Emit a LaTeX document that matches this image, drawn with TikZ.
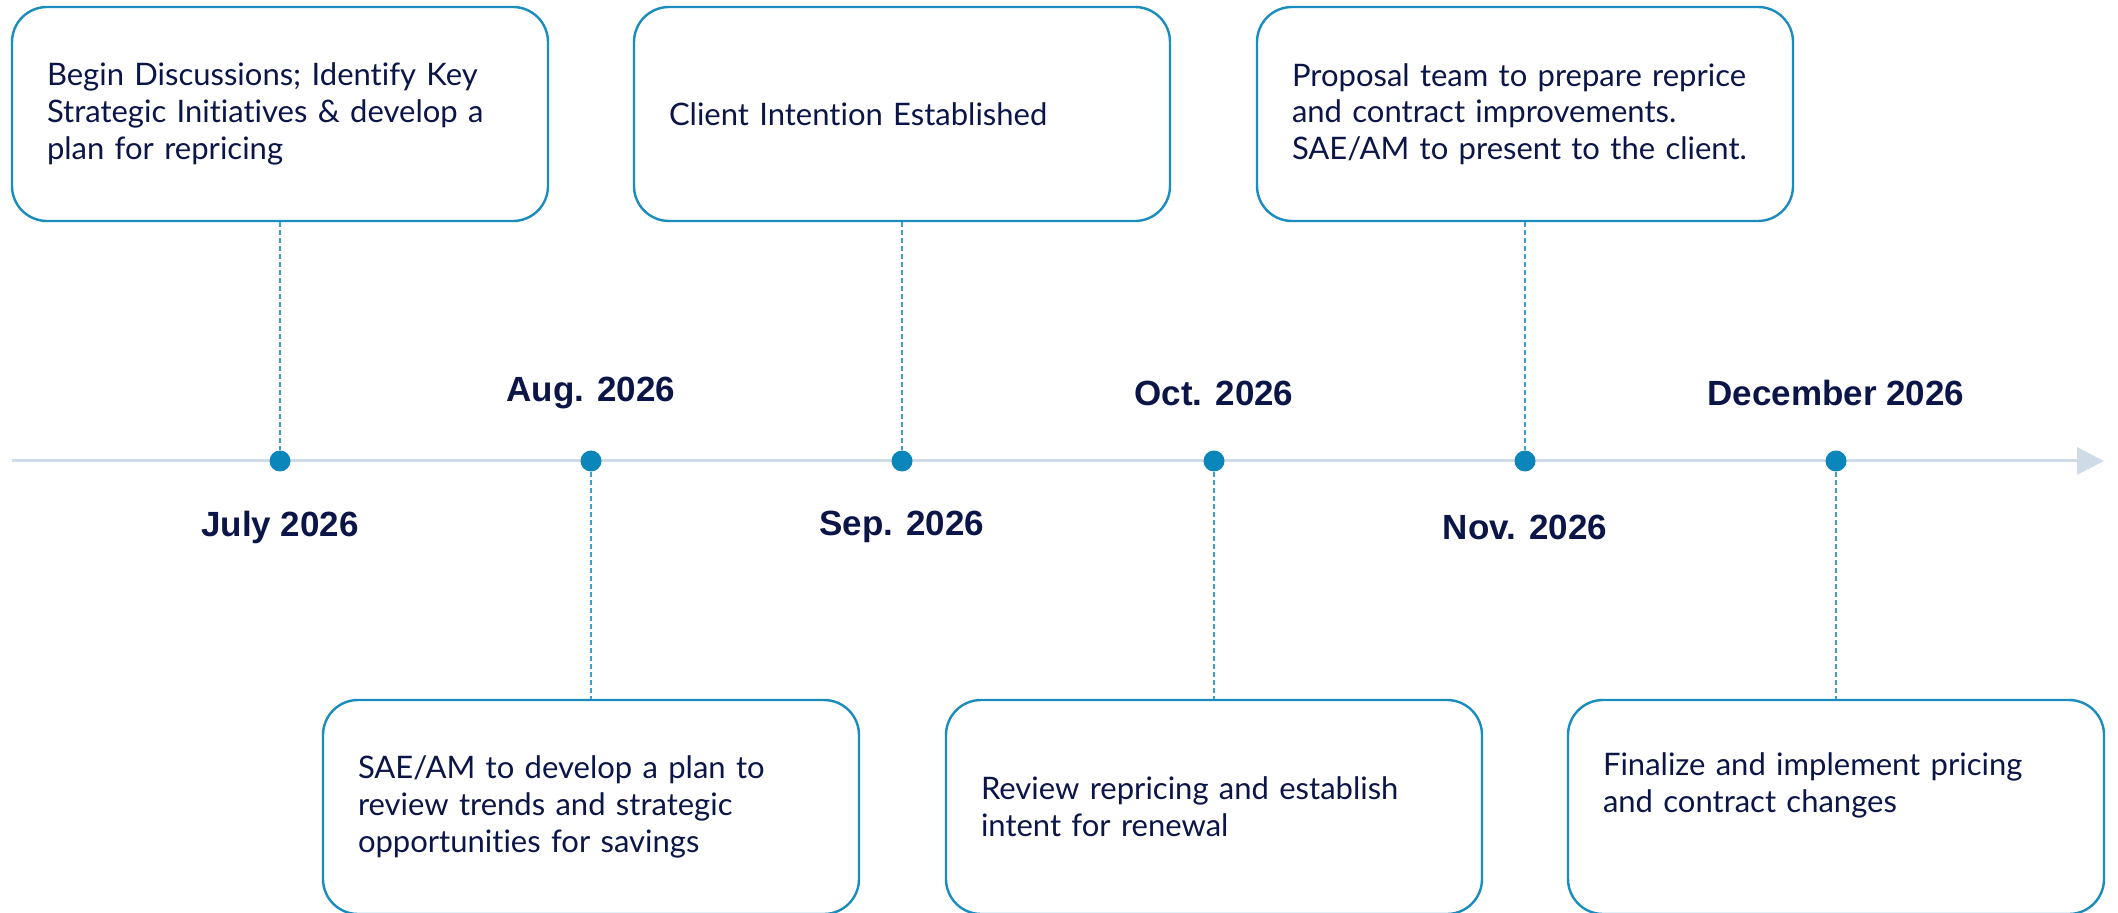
\documentclass[tikz,border=0pt]{standalone}
\usepackage{fontspec}
\setmainfont{Lato}[RawFeature={-liga}]
\newfontfamily\labelfont{Liberation Sans}
\usepackage{xcolor}
\usepackage{tikz}
\usetikzlibrary{arrows.meta,positioning}
\definecolor{BoxBlue}{HTML}{1A8CBE}
\definecolor{DotBlue}{HTML}{0A86BA}
\definecolor{DashBlue}{HTML}{3A9FD1}
\definecolor{AxisGrey}{HTML}{D0DBE8}
\definecolor{TextNavy}{HTML}{0B1547}

\begin{document}
\begin{tikzpicture}[x=0.5pt, y=-0.5pt,
  textbox/.style={draw=BoxBlue, line width=1.2pt, rounded corners=17.5pt, minimum width=268pt, minimum height=107pt, inner xsep=17.5pt, inner ysep=0pt, text width=233pt, align=left, font=\fontsize{15.5}{18.3}\selectfont, text=TextNavy},
  dot/.style={circle, fill=DotBlue, inner sep=0pt, minimum size=10.5pt},
  month/.style={font=\labelfont\bfseries\fontsize{17.5}{21}\selectfont, text=TextNavy},
  link/.style={draw=DashBlue, line width=0.6pt, dash pattern=on 2.5pt off 1.5pt}]
\useasboundingbox (0,0) rectangle (2118,913);
%timeline
\coordinate (t0) at (12,461);
\coordinate (t1) at (2104,461);
\draw [AxisGrey, line width=1.5pt, -{Triangle[length=13.5pt,width=13.5pt]}] (t0) -- (t1);
\node[dot] (d1) at (280,461) {};
\node[dot] (d2) at (591,461) {};
\node[dot] (d3) at (902,461) {};
\node[dot] (d4) at (1214,461) {};
\node[dot] (d5) at (1525,461) {};
\node[dot] (d6) at (1836,461) {};
\node[month] (m1) at (280,527) {July 2026};
\node[month] (m2) at (591,393) {Aug. 2026};
\node[month] (m3) at (902,527) {Sep. 2026};
\node[month] (m4) at (1214,393) {Oct. 2026};
\node[month] (m5) at (1525,527) {Nov. 2026};
\node[month] (m6) at (1836,393) {December 2026};
\node[textbox] (b1) at (280,114) {Begin Discussions; Identify Key\\Strategic Initiatives \& develop a\\plan for repricing};
\node[textbox] (b2) at (902,114) {Client Intention Established};
\node[textbox] (b3) at (1525,114) {Proposal team to prepare reprice\\and contract improvements.\\SAE/AM to present to the client.};
\node[textbox] (b4) at (591,807) {SAE/AM to develop a plan to\\review trends and strategic\\opportunities for savings};
\node[textbox] (b5) at (1214,807) {Review repricing and establish\\intent for renewal};
\node[textbox] (b6) at (1836,807) {Finalize and implement pricing\\and contract changes\\[6pt]~};
\draw [link] (b1) -- (d1);
\draw [link] (b2) -- (d3);
\draw [link] (b3) -- (d5);
\draw [link] (d2) -- (b4);
\draw [link] (d4) -- (b5);
\draw [link] (d6) -- (b6);
\end{tikzpicture}
\end{document}
